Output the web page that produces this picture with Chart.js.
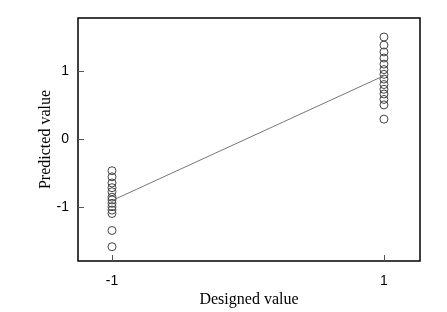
<!DOCTYPE html>
<html>
<head>
<meta charset="utf-8">
<script src="https://cdn.jsdelivr.net/npm/chart.js@4"></script>
<style>
  html, body { margin: 0; padding: 0; background: #fff; }
</style>
</head>
<body>
<canvas id="myChart" width="447" height="312"></canvas>
<script>
// designed levels and predicted values
const levels = [-1, 1];
const lowPredicted = [-0.47, -0.56, -0.65, -0.72, -0.78, -0.86, -0.90, -0.95, -1.00, -1.05, -1.10, -1.35, -1.59];
const highPredicted = [1.50, 1.38, 1.28, 1.19, 1.10, 1.02, 0.95, 0.88, 0.80, 0.73, 0.66, 0.58, 0.50, 0.29];
const fitLine = [-0.91, 0.93];
const xTicks = [-1, 1];
const yTicks = [-1, 0, 1];

const points = lowPredicted.map(v => ({ x: levels[0], y: v }))
    .concat(highPredicted.map(v => ({ x: levels[1], y: v })));

// box round the plot and short ticks pointing inwards
const frame = {
    id: 'frame',
    afterDraw(chart) {
        const { ctx, chartArea: a, scales } = chart;
        ctx.save();
        ctx.strokeStyle = '#000';
        ctx.lineWidth = 1.5;
        ctx.strokeRect(a.left, a.top, a.right - a.left, a.bottom - a.top);
        ctx.lineWidth = 1;
        ctx.strokeStyle = '#555';
        ctx.beginPath();
        xTicks.forEach(v => {
            const px = Math.round(scales.x.getPixelForValue(v)) + 0.5;
            ctx.moveTo(px, a.bottom);
            ctx.lineTo(px, a.bottom - 6);
        });
        yTicks.forEach(v => {
            const py = Math.round(scales.y.getPixelForValue(v)) + 0.5;
            ctx.moveTo(a.left, py);
            ctx.lineTo(a.left + 6, py);
        });
        ctx.stroke();
        ctx.restore();
    }
};

const context = document.getElementById('myChart').getContext('2d');
const myChart = new Chart(context, {
    data: {
        datasets: [
            {
                type: 'line',
                data: levels.map((x, i) => ({ x: x, y: fitLine[i] })),
                borderColor: '#777',
                borderWidth: 1,
                pointRadius: 0,
                fill: false
            },
            {
                type: 'scatter',
                data: points,
                pointStyle: 'circle',
                pointRadius: 4,
                borderColor: '#444',
                borderWidth: 1,
                backgroundColor: 'rgba(0,0,0,0)'
            }
        ]
    },
    plugins: [frame],
    options: {
        responsive: false,
        animation: false,
        devicePixelRatio: 1,
        layout: { padding: { top: 18, right: 27, left: 0, bottom: 0 } },
        plugins: { legend: { display: false }, tooltip: { enabled: false } },
        scales: {
            x: {
                type: 'linear',
                min: -1.25,
                max: 1.265,
                afterBuildTicks: s => { s.ticks = xTicks.map(v => ({ value: v })); },
                afterFit: s => { s.height = 51; },
                grid: { display: false },
                border: { display: false },
                ticks: {
                    padding: 4,
                    color: '#000',
                    font: { family: 'Liberation Sans', size: 14 }
                },
                title: {
                    display: true,
                    text: 'Designed value',
                    color: '#000',
                    padding: { top: 2, bottom: 3 },
                    font: { family: 'Liberation Serif', size: 16 }
                }
            },
            y: {
                min: -1.8,
                max: 1.78,
                afterBuildTicks: s => { s.ticks = yTicks.map(v => ({ value: v })); },
                afterFit: s => { s.width = 78; },
                grid: { display: false },
                border: { display: false },
                ticks: {
                    padding: 1,
                    color: '#000',
                    font: { family: 'Liberation Sans', size: 14 }
                },
                title: {
                    display: true,
                    text: 'Predicted value',
                    color: '#000',
                    padding: { top: 36, bottom: 0 },
                    font: { family: 'Liberation Serif', size: 16 }
                }
            }
        }
    }
});
</script>
</body>
</html>
